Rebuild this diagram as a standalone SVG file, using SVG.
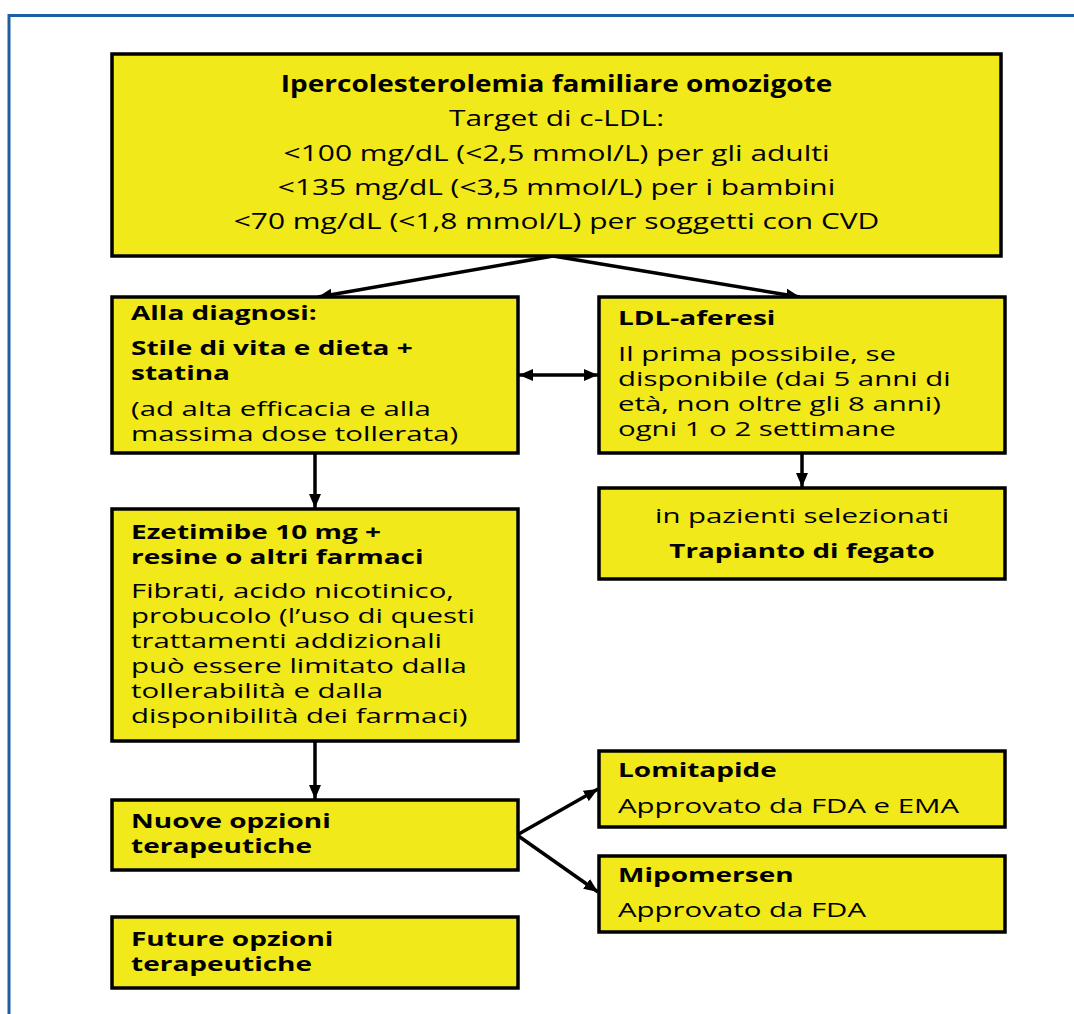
<svg xmlns="http://www.w3.org/2000/svg" width="1074" height="1014" viewBox="0 0 1074 1014">
<style>
.box{fill:#f1e91a;stroke:#000;stroke-width:3.5}
text{font-family:"Open Sans","DejaVu Sans",sans-serif;fill:#000}
.t{font-size:22.5px}
.b{font-size:20px}
.bold{font-weight:bold}
.mid{text-anchor:middle}
.conn{stroke:#000;stroke-width:3.5;fill:none}
.frame{stroke:#1f5ea6;stroke-width:3;fill:none}
</style>
<defs>
<marker id="arr" markerUnits="userSpaceOnUse" markerWidth="15" markerHeight="13" refX="14" refY="6.5" orient="auto-start-reverse">
<path d="M0,0.5 L14,6.5 L0,12.5 z" fill="#000"/>
</marker>
</defs>
<rect width="1074" height="1014" fill="#fff"/>
<path class="frame" d="M9,1014 V15.5 H1074"/>

<g id="connectors">
<line class="conn" x1="553" y1="256" x2="318" y2="297" marker-end="url(#arr)"/>
<line class="conn" x1="553" y1="256" x2="800" y2="297" marker-end="url(#arr)"/>
<line class="conn" x1="519" y1="375" x2="598" y2="375" marker-start="url(#arr)" marker-end="url(#arr)"/>
<line class="conn" x1="315" y1="453" x2="315" y2="508" marker-end="url(#arr)"/>
<line class="conn" x1="802" y1="453" x2="802" y2="487" marker-end="url(#arr)"/>
<line class="conn" x1="315" y1="741" x2="315" y2="799" marker-end="url(#arr)"/>
<line class="conn" x1="517" y1="835" x2="598" y2="789" marker-end="url(#arr)"/>
<line class="conn" x1="517" y1="835" x2="598" y2="892" marker-end="url(#arr)"/>
</g>

<g id="top">
<rect class="box" x="112" y="54" width="889" height="202"/>
<g transform="translate(556.5,0) scale(1.245,1)">
<text class="t bold mid" x="0" y="92">Ipercolesterolemia familiare omozigote</text>
</g>
<g transform="translate(556.5,0) scale(1.33,1)">
<text class="t mid" x="0" y="126.5">Target di c-LDL:</text>
<text class="t mid" x="0" y="161">&lt;100 mg/dL (&lt;2,5 mmol/L) per gli adulti</text>
<text class="t mid" x="0" y="195">&lt;135 mg/dL (&lt;3,5 mmol/L) per i bambini</text>
<text class="t mid" x="0" y="229">&lt;70 mg/dL (&lt;1,8 mmol/L) per soggetti con CVD</text>
</g>
</g>

<g id="alla">
<rect class="box" x="112" y="297" width="406" height="156"/>
<g transform="translate(131,0) scale(1.40,1)">
<text class="b bold" x="0" y="320">Alla diagnosi:</text>
<text class="b bold" x="0" y="355">Stile di vita e dieta +</text>
<text class="b bold" x="0" y="380">statina</text>
</g>
<g transform="translate(131,0) scale(1.47,1)">
<text class="b" x="0" y="416">(ad alta efficacia e alla</text>
<text class="b" x="0" y="441">massima dose tollerata)</text>
</g>
</g>

<g id="ldl">
<rect class="box" x="599" y="297" width="406" height="156"/>
<g transform="translate(618,0) scale(1.40,1)">
<text class="b bold" x="0" y="325">LDL-aferesi</text>
</g>
<g transform="translate(618,0) scale(1.47,1)">
<text class="b" x="0" y="361">Il prima possibile, se</text>
<text class="b" x="0" y="386">disponibile (dai 5 anni di</text>
<text class="b" x="0" y="411">età, non oltre gli 8 anni)</text>
<text class="b" x="0" y="436">ogni 1 o 2 settimane</text>
</g>
</g>

<g id="trapianto">
<rect class="box" x="599" y="488" width="406" height="91"/>
<g transform="translate(802,0) scale(1.47,1)">
<text class="b mid" x="0" y="523">in pazienti selezionati</text>
</g>
<g transform="translate(802,0) scale(1.39,1)">
<text class="b bold mid" x="0" y="558">Trapianto di fegato</text>
</g>
</g>

<g id="ezetimibe">
<rect class="box" x="112" y="509" width="406" height="232"/>
<g transform="translate(131,0) scale(1.40,1)">
<text class="b bold" x="0" y="539">Ezetimibe 10 mg +</text>
<text class="b bold" x="0" y="564">resine o altri farmaci</text>
</g>
<g transform="translate(131,0) scale(1.47,1)">
<text class="b" x="0" y="598">Fibrati, acido nicotinico,</text>
<text class="b" x="0" y="623">probucolo (l’uso di questi</text>
<text class="b" x="0" y="648">trattamenti addizionali</text>
<text class="b" x="0" y="673">può essere limitato dalla</text>
<text class="b" x="0" y="698">tollerabilità e dalla</text>
<text class="b" x="0" y="723">disponibilità dei farmaci)</text>
</g>
</g>

<g id="nuove">
<rect class="box" x="112" y="800" width="406" height="70"/>
<g transform="translate(131,0) scale(1.40,1)">
<text class="b bold" x="0" y="828">Nuove opzioni</text>
<text class="b bold" x="0" y="853">terapeutiche</text>
</g>
</g>

<g id="future">
<rect class="box" x="112" y="917" width="406" height="71"/>
<g transform="translate(131,0) scale(1.40,1)">
<text class="b bold" x="0" y="946">Future opzioni</text>
<text class="b bold" x="0" y="971">terapeutiche</text>
</g>
</g>

<g id="lomitapide">
<rect class="box" x="599" y="751" width="406" height="76"/>
<g transform="translate(618,0) scale(1.40,1)">
<text class="b bold" x="0" y="777">Lomitapide</text>
</g>
<g transform="translate(618,0) scale(1.47,1)">
<text class="b" x="0" y="813">Approvato da FDA e EMA</text>
</g>
</g>

<g id="mipomersen">
<rect class="box" x="599" y="856" width="406" height="76"/>
<g transform="translate(618,0) scale(1.40,1)">
<text class="b bold" x="0" y="882">Mipomersen</text>
</g>
<g transform="translate(618,0) scale(1.47,1)">
<text class="b" x="0" y="917">Approvato da FDA</text>
</g>
</g>
</svg>
